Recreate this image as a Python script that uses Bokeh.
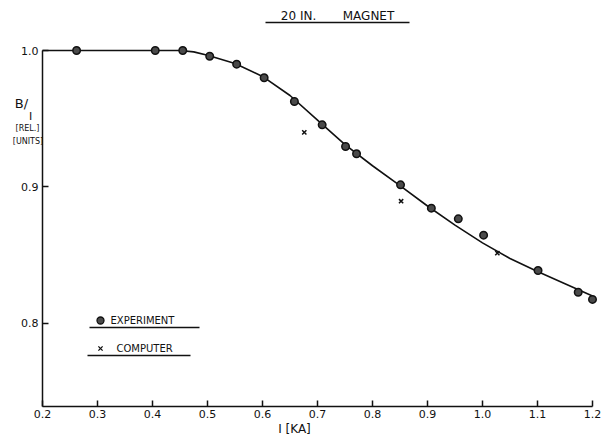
from bokeh.plotting import figure
from bokeh.models import FixedTicker, Label, Arrow, NumeralTickFormatter
from bokeh.embed import file_html
from bokeh.resources import INLINE

# ---- data ----
exp_current = [0.262, 0.405, 0.455, 0.504, 0.553, 0.603, 0.658, 0.7085, 0.751, 0.771,
               0.851, 0.907, 0.956, 1.002, 1.101, 1.174, 1.200]
exp_ratio = [1.000, 1.000, 1.000, 0.9958, 0.990, 0.980, 0.9626, 0.9455, 0.9296, 0.9243,
             0.9015, 0.8844, 0.8766, 0.8646, 0.8387, 0.8228, 0.8175]

comp_current = [0.676, 0.852, 1.027]
comp_ratio = [0.940, 0.8895, 0.8514]

curve_current = [0.20, 0.30, 0.40, 0.45, 0.475, 0.50, 0.55, 0.60, 0.65, 0.70, 0.75,
                 0.80, 0.85, 0.90, 0.95, 1.00, 1.05, 1.10, 1.15, 1.20]
curve_ratio = [1.000, 1.000, 1.000, 1.000, 0.9990, 0.9965, 0.9905, 0.9810, 0.9670, 0.9490,
               0.9310, 0.9155, 0.9010, 0.8860, 0.8720, 0.8590, 0.8475, 0.8380, 0.8290, 0.8200]

x_ticks = [0.2, 0.3, 0.4, 0.5, 0.6, 0.7, 0.8, 0.9, 1.0, 1.1, 1.2]
x_tick_labels = ["0.2", "0.3", "0.4", "0.5", "0.6", "0.7", "0.8", "0.9", "1.0", "1.1", "1.2"]
y_ticks = [0.8, 0.9, 1.0]
y_tick_labels = ["0.8", "0.9", "1.0"]

title_left = "20 IN."
title_right = "MAGNET"
x_label = "I [KA]"
legend_exp = "EXPERIMENT"
legend_comp = "COMPUTER"

FONT = "DejaVu Sans"
INK = "#111111"

X0, X1 = 0.2, 1.2          # axis extent
Y0, Y1 = 0.739, 1.0

W, H = 604, 436


def px(xp):
    """picture pixel -> data x"""
    return 0.2 + (xp - 42) / 550.0


def py(yp):
    """picture pixel -> data y"""
    return 1.0 - (yp - 50) / 1364.0


p = figure(width=W, height=H,
           x_range=(px(0), px(W)), y_range=(py(H), py(0)),
           min_border=0, min_border_left=0, min_border_right=0,
           min_border_top=0, min_border_bottom=0,
           toolbar_location=None, output_backend="svg")
p.outline_line_color = None
p.background_fill_color = "white"
p.border_fill_color = "white"
p.xgrid.visible = False
p.ygrid.visible = False

for ax in (p.xaxis[0], p.yaxis[0]):
    ax.axis_line_color = INK
    ax.axis_line_width = 1.5
    ax.major_tick_line_color = INK
    ax.major_tick_line_width = 1.5
    ax.major_tick_in = 6
    ax.major_tick_out = 0
    ax.minor_tick_line_color = None
    ax.major_label_text_font = FONT
    ax.major_label_text_font_size = "11px"
    ax.major_label_text_color = INK
    ax.formatter = NumeralTickFormatter(format="0.0")

p.xaxis.fixed_location = Y0
p.yaxis.fixed_location = X0
p.xaxis.bounds = (X0, X1)
p.yaxis.bounds = (Y0, Y1)
p.xaxis.ticker = FixedTicker(ticks=x_ticks)
p.yaxis.ticker = FixedTicker(ticks=y_ticks)
p.xaxis.major_label_overrides = dict(zip(x_ticks, x_tick_labels))
p.yaxis.major_label_overrides = dict(zip(y_ticks, y_tick_labels))
p.xaxis.major_label_standoff = 3
p.yaxis.major_label_standoff = 4

# curve
p.line(curve_current, curve_ratio, line_color=INK, line_width=1.6)
# experiment points
p.scatter(exp_current, exp_ratio, marker="circle", size=7.5, fill_color="#4a4a4a",
          line_color=INK, line_width=1.5)
# computer points
p.scatter(comp_current, comp_ratio, marker="x", size=6, line_color=INK, line_width=1.5)


def text(x, y, t, size="10px", align="left", baseline="middle"):
    p.add_layout(Label(x=x, y=y, text=t, text_font=FONT, text_font_size=size,
                       text_color=INK, text_align=align, text_baseline=baseline))


def underline(x0, x1, y):
    p.add_layout(Arrow(x_start=x0, y_start=y, x_end=x1, y_end=y, end=None,
                       line_color=INK, line_width=1.5))


# title
text(px(298), py(15), title_left, size="12px", align="center")
text(px(368), py(15), title_right, size="12px", align="center")
underline(px(265), px(409), py(22))

# y-axis label
text(px(21), py(103), "B/", size="13px", align="center")
text(px(30), py(116), "I", size="11px", align="center")
text(px(27), py(128), "[REL.]", size="8px", align="center")
text(px(27.5), py(141), "[UNITS]", size="8px", align="center")

# x-axis label
text(px(294), py(428), x_label, size="12px", align="center")

# legend
p.scatter([px(100)], [py(320)], marker="circle", size=7, fill_color="#4a4a4a",
          line_color=INK, line_width=1.3)
text(px(110), py(320), legend_exp, size="10px")
underline(px(89), px(199), py(327))
p.scatter([px(100)], [py(348)], marker="x", size=6, line_color=INK, line_width=1.3)
text(px(116), py(348), legend_comp, size="10px")
underline(px(87), px(190), py(355))

open("out.html", "w").write(file_html(p, INLINE))
